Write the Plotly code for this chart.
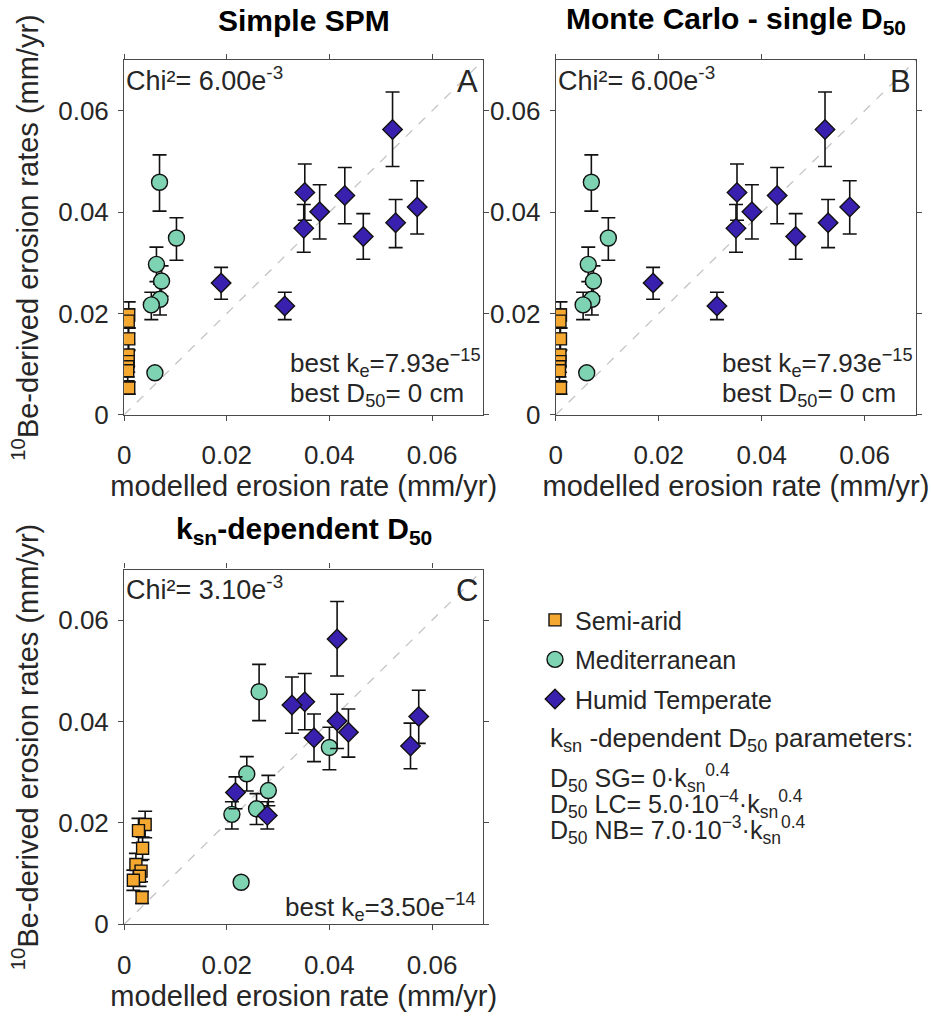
import plotly.graph_objects as go

# ---- data -------------------------------------------------------------
# Semi-arid catchments
sa_obs = [0.0197, 0.0185, 0.0150, 0.0118, 0.0105, 0.0095, 0.0087, 0.0053]
sa_err_up = [0.0026, 0.0024, 0.0022, 0.0022, 0.0021, 0.0020, 0.0020, 0.0012]
sa_err_dn = [0.0026, 0.0024, 0.0022, 0.0022, 0.0021, 0.0020, 0.0020, 0.0012]
sa_mod_spm = [0.0009, 0.0008, 0.0009, 0.0008, 0.0008, 0.0007, 0.0007, 0.0009]
sa_mod_ksn = [0.0041, 0.0028, 0.0036, 0.0023, 0.0033, 0.0030, 0.0018, 0.0035]

# Mediterranean catchments
med_obs = [0.0459, 0.0349, 0.0297, 0.0264, 0.0228, 0.0217, 0.0083]
med_err_up = [0.0054, 0.0040, 0.0034, 0.0030, 0.0030, 0.0025, 0.0008]
med_err_dn = [0.0057, 0.0044, 0.0034, 0.0030, 0.0031, 0.0029, 0.0008]
med_mod_spm = [0.0069, 0.0102, 0.0063, 0.0073, 0.0070, 0.0053, 0.0060]
med_mod_ksn = [0.0263, 0.0400, 0.0239, 0.0281, 0.0258, 0.0210, 0.0228]

# Humid temperate catchments
ht_obs = [0.0260, 0.0215, 0.0439, 0.0368, 0.0401, 0.0433, 0.0352, 0.0563, 0.0379, 0.0410]
ht_err_up = [0.0031, 0.0027, 0.0056, 0.0047, 0.0053, 0.0055, 0.0045, 0.0074, 0.0046, 0.0052]
ht_err_dn = [0.0032, 0.0027, 0.0055, 0.0047, 0.0054, 0.0056, 0.0045, 0.0073, 0.0049, 0.0053]
ht_mod_spm = [0.0189, 0.0313, 0.0352, 0.0350, 0.0381, 0.0430, 0.0466, 0.0523, 0.0529, 0.0571]
ht_mod_ksn = [0.0217, 0.0279, 0.0352, 0.0370, 0.0415, 0.0327, 0.0558, 0.0415, 0.0437, 0.0574]

tick_vals = [0, 0.02, 0.04, 0.06]
tick_text = ["0", "0.02", "0.04", "0.06"]
axis_max = 0.07

panel_titles = ["<b>Simple SPM</b>",
                "<b>Monte Carlo - single D<sub>50</sub></b>",
                "<b>k<sub>sn</sub>-dependent D<sub>50</sub></b>"]
panel_letters = ["A", "B", "C"]
chi_labels = ["Chi²= 6.00e<sup>-3</sup>", "Chi²= 6.00e<sup>-3</sup>", "Chi²= 3.10e<sup>-3</sup>"]
ke_labels = ["best k<sub>e</sub>=7.93e<sup>−15</sup>", "best k<sub>e</sub>=7.93e<sup>−15</sup>",
             "best k<sub>e</sub>=3.50e<sup>−14</sup>"]
d50_labels = ["best D<sub>50</sub>= 0 cm", "best D<sub>50</sub>= 0 cm", None]

# ---- styling ----------------------------------------------------------
W, H = 931, 1030
FONT = "Liberation Sans, Arial, sans-serif"
TITLE_FONT = "Liberation Sans Narrow, Arial Narrow, Liberation Sans, sans-serif"
TXT = "#262626"
AX = "#4a4a4a"
C_SA, C_MED, C_HT = "#F5A830", "#7ED3B2", "#3A20AE"

# panel frames in pixels: (left, right, top, bottom)
frames = [(118, 480, 61, 421), (553, 916, 61, 421), (118, 480, 578, 938)]


def px_dom(f):
    l, r, t, b = f
    return [l / W, r / W], [1 - b / H, 1 - t / H]


fig = go.Figure()

groups = [
    ("Semi-arid", sa_obs, sa_err_up, sa_err_dn, [sa_mod_spm, sa_mod_spm, sa_mod_ksn],
     dict(symbol="square", size=12, color=C_SA)),
    ("Mediterranean", med_obs, med_err_up, med_err_dn, [med_mod_spm, med_mod_spm, med_mod_ksn],
     dict(symbol="circle", size=16, color=C_MED)),
    ("Humid Temperate", ht_obs, ht_err_up, ht_err_dn, [ht_mod_spm, ht_mod_spm, ht_mod_ksn],
     dict(symbol="diamond", size=15, color=C_HT)),
]

for p in range(3):
    sfx = "" if p == 0 else str(p + 1)
    xd, yd = px_dom(frames[p])
    ax_common = dict(range=[0, axis_max], tickvals=tick_vals, ticktext=tick_text,
                     showline=True, linecolor=AX, linewidth=1.2, mirror="ticks",
                     ticks="outside", ticklen=5, tickcolor=AX, tickwidth=1.2,
                     showgrid=False, zeroline=False,
                     tickfont=dict(family=FONT, size=26, color=TXT))
    fig.update_layout(**{
        "xaxis" + sfx: dict(ax_common, domain=xd, anchor="y" + sfx, ticklabelstandoff=12,
                            title=dict(text="modelled erosion rate (mm/yr)",
                                       font=dict(family=FONT, size=29, color=TXT), standoff=6)),
        "yaxis" + sfx: dict(ax_common, domain=yd, anchor="x" + sfx, ticklabelstandoff=4,
                            title=dict(text="<sup>10</sup>Be-derived erosion rates (mm/yr)" if p != 1 else "",
                                       font=dict(family=FONT, size=29, color=TXT), standoff=11)),
    })
    # 1:1 reference line
    fig.add_shape(type="line", x0=0, y0=0, x1=axis_max, y1=axis_max,
                  xref="x" + sfx, yref="y" + sfx,
                  line=dict(color="#c4c4c4", width=1.3, dash="dash"), layer="below")

    for name, obs, eu, ed, mods, mk in groups:
        fig.add_trace(go.Scatter(
            x=mods[p], y=obs, mode="markers", name=name,
            xaxis="x" + sfx, yaxis="y" + sfx,
            showlegend=(p == 2), legendgroup=name,
            marker=dict(symbol=mk["symbol"], size=mk["size"], color=mk["color"],
                        line=dict(color="#111111", width=1.4)),
            error_y=dict(type="data", array=eu, arrayminus=ed, color="#111111",
                         thickness=1.6, width=7),
        ))

    l, r, t, b = frames[p]
    xr, yr = "x" + sfx + " domain", "y" + sfx + " domain"
    fig.add_annotation(text=chi_labels[p], x=0.0, y=0.948, xref=xr, yref=yr,
                       xanchor="left", yanchor="middle", showarrow=False,
                       font=dict(family=FONT, size=27, color=TXT))
    fig.add_annotation(text=panel_letters[p], x=0.99, y=0.94, xref=xr, yref=yr,
                       xanchor="right", yanchor="middle", showarrow=False,
                       font=dict(family=FONT, size=31, color=TXT))
    if d50_labels[p] is not None:
        fig.add_annotation(text=ke_labels[p], x=0.455, y=0.147, xref=xr, yref=yr,
                           xanchor="left", yanchor="middle", showarrow=False,
                           font=dict(family=FONT, size=26, color=TXT))
        fig.add_annotation(text=d50_labels[p], x=0.455, y=0.058, xref=xr, yref=yr,
                           xanchor="left", yanchor="middle", showarrow=False,
                           font=dict(family=FONT, size=26, color=TXT))
    else:
        fig.add_annotation(text=ke_labels[p], x=0.985, y=0.05, xref=xr, yref=yr,
                           xanchor="right", yanchor="middle", showarrow=False,
                           font=dict(family=FONT, size=26, color=TXT))
    # panel heading
    fig.add_annotation(text=panel_titles[p], x=(l + r) / 2 / W, y=1 - (t - 40) / H,
                       xref="paper", yref="paper", xanchor="center", yanchor="middle",
                       showarrow=False, font=dict(family=TITLE_FONT, size=30, color="#000000"))

# parameter notes beside the legend
notes = [
    ("k<sub>sn</sub> -dependent D<sub>50</sub> parameters:", 750, 26),
    ("D<sub>50</sub> SG= 0·k<sub>sn</sub><sup>0.4</sup>", 790, 25),
    ("D<sub>50</sub> LC= 5.0·10<sup>−4</sup>·k<sub>sn</sub><sup>0.4</sup>", 816, 25),
    ("D<sub>50</sub> NB= 7.0·10<sup>−3</sup>·k<sub>sn</sub><sup>0.4</sup>", 842, 25),
]
for txt, ypx, fs in notes:
    fig.add_annotation(text=txt, x=545 / W, y=1 - ypx / H, xref="paper", yref="paper",
                       xanchor="left", yanchor="middle", showarrow=False,
                       font=dict(family=FONT, size=fs, color=TXT))

fig.update_layout(
    width=W, height=H, margin=dict(l=0, r=0, t=0, b=0),
    paper_bgcolor="white", plot_bgcolor="white",
    showlegend=True,
    legend=dict(x=532 / W, y=1 - 606 / H, xanchor="left", yanchor="top",
                font=dict(family=FONT, size=25, color=TXT),
                bgcolor="rgba(0,0,0,0)", tracegroupgap=4, itemwidth=30),
)

fig.write_html("out.html")
